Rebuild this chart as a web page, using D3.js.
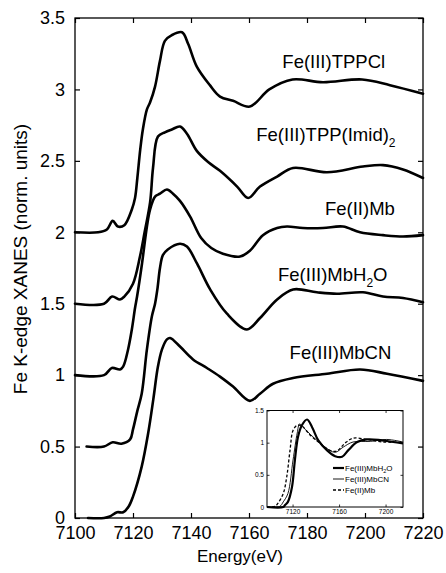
<!DOCTYPE html>
<html>
<head>
<meta charset="utf-8">
<script src="https://cdn.jsdelivr.net/npm/d3@7/dist/d3.min.js"></script>
<style>
body{margin:0;background:#fff;}
text{font-family:Arial,"Liberation Sans",sans-serif;fill:#000;}
</style>
</head>
<body>
<script>
// ---- data (energy in eV, plotted value incl. offset) ----
var tppclE = [7100,7108,7111,7113,7114.8,7117,7119.6,7120.7,7121.5,7122.5,7123.4,7124.8,7125.9,7127.6,7129.3,7131,7133.4,7136.9,7139,7142,7146.5,7150,7154.5,7160.3,7167,7175,7185.5,7199,7208.6,7220];
var tppclY = [2.00,2.00,2.02,2.08,2.04,2.05,2.16,2.24,2.38,2.58,2.72,2.86,2.91,3.02,3.20,3.34,3.38,3.40,3.32,3.16,3.03,2.95,2.92,2.88,3.00,3.07,3.05,3.07,3.03,2.97];

var imidE = [7100,7110,7112.8,7115.5,7117,7120,7122.4,7124,7125.9,7126.9,7128.6,7131,7133.4,7136.2,7138.6,7142,7146,7150,7155.9,7159.7,7163.8,7169.7,7175.2,7186.9,7199.3,7206.2,7213.1,7220];
var imidY = [1.50,1.50,1.55,1.53,1.55,1.64,1.83,2.00,2.21,2.45,2.67,2.70,2.72,2.74,2.69,2.57,2.49,2.43,2.32,2.24,2.32,2.39,2.45,2.42,2.46,2.47,2.44,2.38];

var mbE = [7100,7110,7112.7,7115.5,7116.6,7118.3,7119.6,7120.7,7121.4,7123.1,7124.8,7125.9,7127.6,7129.3,7131.7,7133.8,7136.2,7139.7,7143.5,7147,7151,7156.9,7160.3,7164.8,7169.7,7173.1,7178.6,7185.5,7192.4,7198.3,7206.2,7213.1,7220];
var mbY = [1.00,1.00,1.05,1.04,1.06,1.18,1.32,1.47,1.55,1.78,2.04,2.16,2.25,2.27,2.30,2.27,2.22,2.11,1.96,1.89,1.85,1.83,1.87,1.98,2.03,2.04,2.03,2.03,2.04,2.00,1.98,1.97,1.98];

var h2oE = [7104,7110,7113,7116,7119,7120,7121.5,7123,7124.8,7126.5,7127.6,7128.4,7129.3,7130.3,7132,7136.2,7138.6,7142.1,7146.6,7152.4,7159.3,7163.8,7169.7,7175.2,7183.4,7190.3,7199.3,7206.2,7213.1,7220];
var h2oY = [0.50,0.50,0.53,0.52,0.55,0.62,0.75,0.87,1.18,1.41,1.50,1.60,1.75,1.84,1.88,1.92,1.90,1.78,1.60,1.43,1.32,1.40,1.53,1.60,1.58,1.57,1.58,1.55,1.54,1.51];

var cnE = [7104.5,7110,7112,7114.5,7116.6,7118.5,7120,7123,7125.2,7127,7128.6,7130,7131.7,7132.8,7136.2,7140.7,7145.5,7150,7154.5,7160.3,7163.8,7168.3,7175.2,7186.9,7198.3,7207.6,7220];
var cnY = [0.00,0.00,0.01,0.04,0.04,0.08,0.15,0.36,0.59,0.83,1.06,1.18,1.25,1.26,1.20,1.11,1.05,0.99,0.92,0.82,0.87,0.94,0.98,1.01,1.04,1.01,0.96];

var labels = ['Fe(III)TPPCl','Fe(III)TPP(Imid)','Fe(II)Mb','Fe(III)MbH','Fe(III)MbCN'];
var labelSubs = ['', '2', '', '2', ''];
var labelTails = ['', '', '', 'O', ''];

// inset (normalized)
var inH2oE = [7098,7112,7113.5,7116,7119.5,7122,7124.7,7128,7132.5,7136.8,7142,7149.7,7156.6,7162.6,7167.8,7175.6,7184,7195.4,7206.6,7215];
var inH2oY = [0.00,0.00,0.03,0.08,0.31,0.73,1.09,1.27,1.36,1.24,1.04,0.88,0.79,0.78,0.88,1.01,1.05,1.04,1.01,0.99];
var inCnE = [7098,7109,7112,7116,7120.4,7124,7126,7129,7137.6,7148,7156.6,7163.5,7172,7186.8,7201,7215];
var inCnY = [0.00,0.01,0.08,0.21,0.73,1.15,1.29,1.24,1.09,0.93,0.85,0.93,1.01,1.02,1.05,1.01];
var inMbE = [7098,7105,7107.5,7112,7115,7117.8,7120.4,7124,7128,7135,7143.7,7152,7158,7165,7172,7184,7198,7215];
var inMbY = [0.00,0.01,0.06,0.21,0.47,0.88,1.19,1.27,1.26,1.12,0.99,0.88,0.87,0.99,1.07,1.05,1.01,1.01];
var insetNames = ['Fe(III)MbH','Fe(III)MbCN','Fe(II)Mb'];

var xTicks = [7100,7120,7140,7160,7180,7200,7220];
var yTicks = [0,0.5,1,1.5,2,2.5,3,3.5];
var inXTicks = [7120,7160,7200];
var inYTicks = [0,0.5,1,1.5];

var W = 446, H = 573;
var svg = d3.select('body').append('svg').attr('width',W).attr('height',H);

var x = d3.scaleLinear().domain([7100,7220]).range([75,423]);
var y = d3.scaleLinear().domain([0,3.5]).range([518,18]);

function zip(a,b){ return a.map(function(d,i){ return [d,b[i]]; }); }

// axes, ticks inward on all four sides
function noDomain(g){ g.select('.domain').remove(); g.selectAll('.tick line').attr('stroke','#000').attr('stroke-width',1.2); }
svg.append('g').attr('transform','translate(0,518)')
  .call(d3.axisBottom(x).tickValues(xTicks).tickSize(-5).tickPadding(8).tickFormat(d3.format('d')))
  .call(noDomain).selectAll('text').attr('font-size',18);
svg.append('g').attr('transform','translate(0,18)')
  .call(d3.axisTop(x).tickValues(xTicks).tickSize(-5).tickFormat('')).call(noDomain);
svg.append('g').attr('transform','translate(75,0)')
  .call(d3.axisLeft(y).tickValues(yTicks).tickSize(-5).tickPadding(10).tickFormat(function(d){return String(d);}))
  .call(noDomain).selectAll('text').attr('font-size',18);
svg.append('g').attr('transform','translate(423,0)')
  .call(d3.axisRight(y).tickValues(yTicks).tickSize(-5).tickFormat('')).call(noDomain);
svg.append('rect').attr('x',75).attr('y',18).attr('width',348).attr('height',500)
  .attr('fill','none').attr('stroke','#000').attr('stroke-width',1.3);

// curves
var line = d3.line().x(function(d){return x(d[0]);}).y(function(d){return y(d[1]);})
  .curve(d3.curveCatmullRom.alpha(0.5));
var series = [zip(tppclE,tppclY), zip(imidE,imidY), zip(mbE,mbY), zip(h2oE,h2oY), zip(cnE,cnY)];
svg.append('g').selectAll('path').data(series).enter().append('path')
  .attr('d',line).attr('fill','none').attr('stroke','#000').attr('stroke-width',2.6)
  .attr('stroke-linejoin','round').attr('stroke-linecap','round');

// curve labels
var labelPos = [[7171.5,3.15],[7162.5,2.64],[7186.2,2.12],[7170,1.66],[7174,1.11]];
labels.forEach(function(t,i){
  var tx = svg.append('text').attr('x',x(labelPos[i][0])).attr('y',y(labelPos[i][1])).attr('font-size',18.5);
  tx.append('tspan').text(t);
  if(labelSubs[i]) tx.append('tspan').attr('dy',6).attr('font-size',12).text(labelSubs[i]);
  if(labelTails[i]) tx.append('tspan').attr('dy',-6).text(labelTails[i]);
});

// axis titles
svg.append('text').attr('x',240).attr('y',562).attr('text-anchor','middle').attr('font-size',17).text('Energy(eV)');
svg.append('text').attr('transform','translate(27,259) rotate(-90)').attr('text-anchor','middle')
  .attr('font-size',19).text('Fe K-edge XANES (norm. units)');

// ---- inset ----
var xi = d3.scaleLinear().domain([7098,7215]).range([267,403]);
var yi = d3.scaleLinear().domain([0,1.5]).range([507,410.5]);
var inset = svg.append('g');
inset.append('rect').attr('x',267).attr('y',410.5).attr('width',136).attr('height',96.5)
  .attr('fill','#fff').attr('stroke','none');
function thin(g){ g.select('.domain').remove(); g.selectAll('.tick line').attr('stroke','#000').attr('stroke-width',0.8); }
inset.append('g').attr('transform','translate(0,507)')
  .call(d3.axisBottom(xi).tickValues(inXTicks).tickSize(-2.5).tickPadding(2).tickFormat(d3.format('d')))
  .call(thin).selectAll('text').attr('font-size',6.5);
inset.append('g').attr('transform','translate(0,410.5)')
  .call(d3.axisTop(xi).tickValues(inXTicks).tickSize(-2.5).tickFormat('')).call(thin);
inset.append('g').attr('transform','translate(267,0)')
  .call(d3.axisLeft(yi).tickValues(inYTicks).tickSize(-2.5).tickPadding(3).tickFormat(function(d){return String(d);}))
  .call(thin).selectAll('text').attr('font-size',6.5);
inset.append('g').attr('transform','translate(403,0)')
  .call(d3.axisRight(yi).tickValues(inYTicks).tickSize(-2.5).tickFormat('')).call(thin);

var iline = d3.line().x(function(d){return xi(d[0]);}).y(function(d){return yi(d[1]);})
  .curve(d3.curveCatmullRom.alpha(0.5));
var inSeries = [
  {pts: zip(inH2oE,inH2oY), w: 2.2, dash: null},
  {pts: zip(inCnE,inCnY), w: 0.9, dash: null},
  {pts: zip(inMbE,inMbY), w: 1.3, dash: '3,2'}
];
inSeries.forEach(function(s){
  inset.append('path').attr('d',iline(s.pts)).attr('fill','none').attr('stroke','#000')
    .attr('stroke-width',s.w).attr('stroke-dasharray',s.dash);
});
inset.append('rect').attr('x',267).attr('y',410.5).attr('width',136).attr('height',96.5)
  .attr('fill','none').attr('stroke','#000').attr('stroke-width',1);

// inset legend
var legY = [468,479,490];
inSeries.forEach(function(s,i){
  inset.append('line').attr('x1',333).attr('x2',344).attr('y1',legY[i]).attr('y2',legY[i])
    .attr('stroke','#000').attr('stroke-width',s.w).attr('stroke-dasharray',s.dash);
  var t = inset.append('text').attr('x',345).attr('y',legY[i]+2.7).attr('font-size',8);
  t.append('tspan').text(insetNames[i]);
  if(i===0){
    t.append('tspan').attr('dy',2.5).attr('font-size',5.5).text('2');
    t.append('tspan').attr('dy',-2.5).text('O');
  }
});
</script>
</body>
</html>
